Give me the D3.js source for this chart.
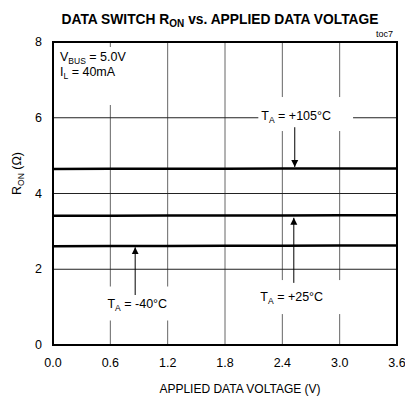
<!DOCTYPE html>
<html>
<head>
<meta charset="utf-8">
<script src="https://cdn.jsdelivr.net/npm/d3@7.9.0/dist/d3.min.js"></script>
<style>
  body { margin: 0; background: #fff; }
  svg text { font-family: "Liberation Sans", Arial, sans-serif; fill: #000; }
</style>
</head>
<body>
<svg id="chart" width="405" height="402"></svg>
<script>
// data
const voltage = [0.0, 0.6, 1.2, 1.8, 2.4, 3.0, 3.6];
const ron_m40 = [2.61, 2.612, 2.615, 2.618, 2.621, 2.624, 2.627];
const ron_25 = [3.41, 3.413, 3.416, 3.419, 3.422, 3.425, 3.428];
const ron_105 = [4.65, 4.652, 4.654, 4.656, 4.658, 4.66, 4.662];
const xTicks = [0, 0.6, 1.2, 1.8, 2.4, 3.0, 3.6];
const yTicks = [0, 2, 4, 6, 8];

const W = 405, H = 402;
const margin = { top: 42, right: 8, bottom: 57, left: 53 };
const svg = d3.select('#chart');

const x = d3.scaleLinear().domain([0, 3.6]).range([margin.left, W - margin.right]);
const y = d3.scaleLinear().domain([0, 8]).range([H - margin.bottom, margin.top]);

// gridlines
const grid = svg.append('g');
grid.selectAll('line.vx')
  .data(xTicks.slice(1, -1))
  .enter().append('line')
  .attr('x1', d => x(d)).attr('x2', d => x(d))
  .attr('y1', y(8)).attr('y2', y(0))
  .attr('stroke', '#666').attr('stroke-width', 1);
grid.selectAll('line.hy')
  .data(yTicks.slice(1, -1))
  .enter().append('line')
  .attr('x1', x(0)).attr('x2', x(3.6))
  .attr('y1', d => y(d)).attr('y2', d => y(d))
  .attr('stroke', '#222').attr('stroke-width', 1);

// curves
let line = d3.line().x((d, i) => x(voltage[i])).y(d => y(d));
[ron_m40, ron_25, ron_105].forEach(s => {
  svg.append('path')
    .attr('d', line(s))
    .attr('fill', 'none')
    .attr('stroke', '#000')
    .attr('stroke-width', 2.5);
});

// frame
svg.append('rect')
  .attr('x', x(0)).attr('y', y(8))
  .attr('width', x(3.6) - x(0)).attr('height', y(0) - y(8))
  .attr('fill', 'none').attr('stroke', '#000').attr('stroke-width', 2);

// tick labels
svg.append('g').selectAll('text')
  .data(xTicks)
  .enter().append('text')
  .attr('x', d => x(d)).attr('y', y(0) + 22)
  .attr('text-anchor', 'middle')
  .attr('font-size', 12.5)
  .text(d => d.toFixed(1));

svg.append('g').selectAll('text')
  .data(yTicks)
  .enter().append('text')
  .attr('x', x(0) - 11).attr('y', d => y(d) + 4)
  .attr('text-anchor', 'end')
  .attr('font-size', 12.5)
  .text(d => d);

// titles
let title = svg.append('text')
  .attr('x', 220).attr('y', 24)
  .attr('text-anchor', 'middle')
  .attr('font-size', 13.8).attr('font-weight', 'bold');
title.append('tspan').text('DATA SWITCH R');
title.append('tspan').attr('font-size', 10).attr('dy', 3).text('ON');
title.append('tspan').attr('dy', -3).text(' vs. APPLIED DATA VOLTAGE');

svg.append('text')
  .attr('x', x(3.6) - 4).attr('y', 37)
  .attr('text-anchor', 'end')
  .attr('font-size', 9)
  .text('toc7');

svg.append('text')
  .attr('x', 240).attr('y', 393)
  .attr('text-anchor', 'middle')
  .attr('font-size', 12)
  .text('APPLIED DATA VOLTAGE (V)');

let yt = svg.append('text')
  .attr('transform', `translate(21, ${y(4) - 20}) rotate(-90)`)
  .attr('text-anchor', 'middle')
  .attr('font-size', 12.5);
yt.append('tspan').text('R');
yt.append('tspan').attr('font-size', 8.5).attr('dy', 3).text('ON');
yt.append('tspan').attr('dy', -3).text(' (\u03A9)');

// annotations
const labels = [
  { t: '+105°C', vx: 2.18, vy: 5.94, pl: 3, pr: 22, pt: 12, pb: 6, ax: 2.53, a1: 5.75, a2: 4.7 },
  { t: '-40°C', vx: 0.57, vy: 0.99, pl: 3, pr: 12, pt: 10, pb: 8, ax: 0.86, a1: 1.32, a2: 2.58 },
  { t: '+25°C', vx: 2.17, vy: 1.16, pl: 3, pr: 22, pt: 10, pb: 8, ax: 2.52, a1: 1.64, a2: 3.36 }
];

svg.append('defs').append('marker')
  .attr('id', 'ah')
  .attr('viewBox', '0 0 10 10')
  .attr('refX', 10).attr('refY', 5)
  .attr('markerWidth', 7).attr('markerHeight', 10)
  .attr('markerUnits', 'userSpaceOnUse')
  .attr('orient', 'auto')
  .append('path').attr('d', 'M0,0 L10,5 L0,10 z').attr('fill', '#000');

labels.forEach(l => {
  let g = svg.append('g');
  let bg = g.append('rect').attr('fill', '#fff');
  let tx = g.append('text')
    .attr('x', x(l.vx)).attr('y', y(l.vy))
    .attr('font-size', 12.5);
  tx.append('tspan').text('T');
  tx.append('tspan').attr('font-size', 8.5).attr('dy', 3).text('A');
  tx.append('tspan').attr('dy', -3).text(' = ' + l.t);
  let bb = tx.node().getBBox();
  bg.attr('x', bb.x - l.pl).attr('y', bb.y - l.pt)
    .attr('width', bb.width + l.pl + l.pr).attr('height', bb.height + l.pt + l.pb);
  svg.append('line')
    .attr('x1', x(l.ax)).attr('x2', x(l.ax))
    .attr('y1', y(l.a1)).attr('y2', y(l.a2))
    .attr('stroke', '#000').attr('stroke-width', 1)
    .attr('marker-end', 'url(#ah)');
});

// conditions box
let cg = svg.append('g');
let cbg = cg.append('rect').attr('fill', '#fff');
let c1 = cg.append('text').attr('x', x(0) + 7).attr('y', 61).attr('font-size', 12.5);
c1.append('tspan').text('V');
c1.append('tspan').attr('font-size', 8.5).attr('dy', 2.5).text('BUS');
c1.append('tspan').attr('dy', -2.5).text(' = 5.0V');
let c2 = cg.append('text').attr('x', x(0) + 7).attr('y', 76).attr('font-size', 12.5);
c2.append('tspan').text('I');
c2.append('tspan').attr('font-size', 8.5).attr('dy', 2.5).text('L');
c2.append('tspan').attr('dy', -2.5).text(' = 40mA');
cbg.attr('x', x(0) + 2).attr('y', y(8) + 5)
  .attr('width', 80).attr('height', 58);
</script>
</body>
</html>
